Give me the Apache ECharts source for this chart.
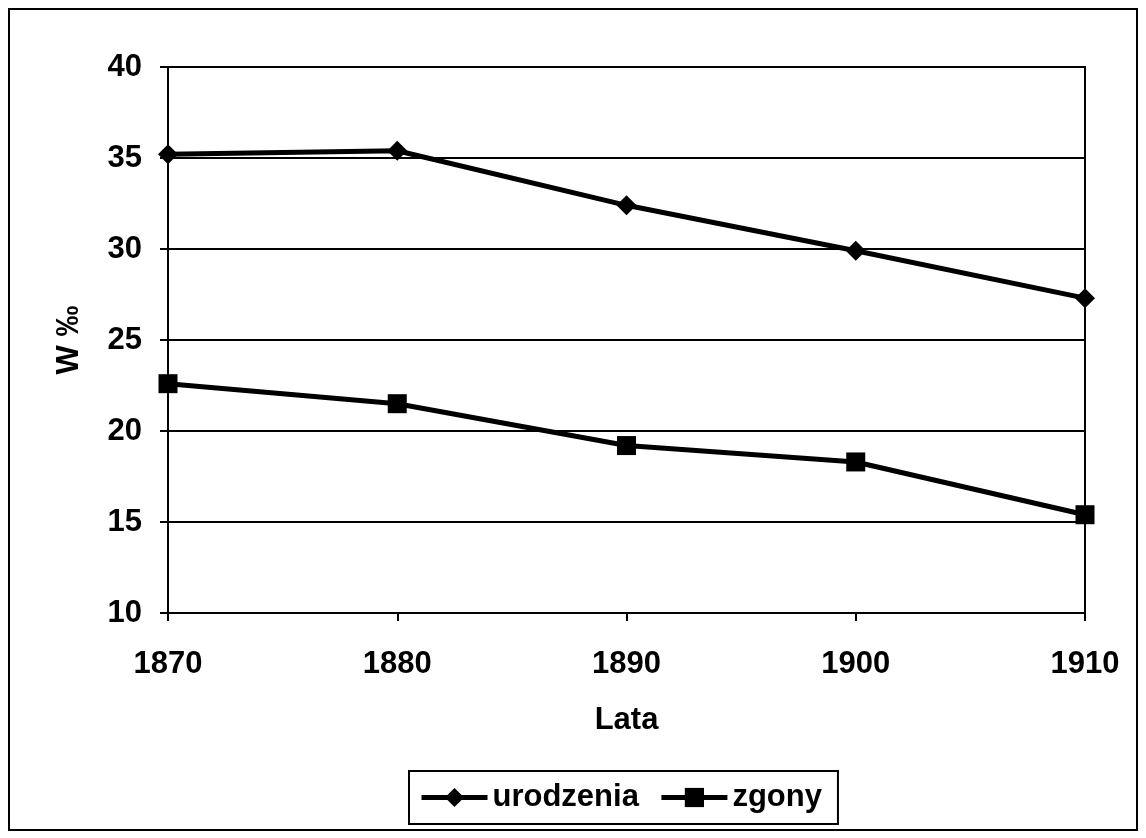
<!DOCTYPE html>
<html>
<head>
<meta charset="utf-8">
<script src="https://cdn.jsdelivr.net/npm/echarts@6/dist/echarts.min.js"></script>
<style>
  html, body { margin: 0; padding: 0; background: #fff; }
  #chart { width: 1146px; height: 838px; }
</style>
</head>
<body>
<div id="chart"></div>
<script>
const years = ['1870', '1880', '1890', '1900', '1910'];
const urodzenia = [35.2, 35.4, 32.4, 29.9, 27.3];
const zgony = [22.6, 21.5, 19.2, 18.3, 15.4];

const font = '"Liberation Sans", Arial, sans-serif';
const bold = { fontFamily: font, fontWeight: 'bold', fontSize: 31, color: '#000' };

const chart = echarts.init(document.getElementById('chart'));
chart.setOption({
  animation: false,
  backgroundColor: '#fff',
  textStyle: { fontFamily: font },
  // outer frame
  graphic: [{
    type: 'rect',
    shape: { x: 9, y: 9, width: 1128, height: 821 },
    style: { fill: 'none', stroke: '#000', lineWidth: 2 },
    silent: true
  }],
  grid: {
    left: 168, right: 61, top: 67, bottom: 225,
    show: true, borderColor: '#000', borderWidth: 2
  },
  legend: {
    data: ['urodzenia', 'zgony'],
    top: 771,
    left: 409,
    itemWidth: 66,
    itemHeight: 24,
    itemGap: 20,
    padding: [11, 16, 11, 10],
    borderColor: '#000',
    borderWidth: 2,
    lineStyle: { width: 5 },
    textStyle: bold
  },
  xAxis: {
    type: 'category',
    data: years,
    boundaryGap: false,
    name: 'Lata',
    nameLocation: 'middle',
    nameGap: 92,
    nameTextStyle: bold,
    axisLine: { lineStyle: { color: '#000', width: 2 } },
    axisTick: { show: true, length: 8, alignWithLabel: true, lineStyle: { color: '#000', width: 2 } },
    axisLabel: Object.assign({ margin: 36 }, bold),
    splitLine: { show: false }
  },
  yAxis: {
    type: 'value',
    min: 10, max: 40, interval: 5,
    name: 'W ‰',
    nameLocation: 'middle',
    nameGap: 83,
    nameRotate: 90,
    nameTextStyle: bold,
    axisLine: { show: true, lineStyle: { color: '#000', width: 2 } },
    axisTick: { show: true, length: 8, lineStyle: { color: '#000', width: 2 } },
    axisLabel: Object.assign({ margin: 26 }, bold),
    splitLine: { show: true, lineStyle: { color: '#000', width: 2 } }
  },
  series: [
    {
      name: 'urodzenia',
      type: 'line',
      data: urodzenia,
      symbol: 'diamond',
      symbolSize: 20,
      itemStyle: { color: '#000' },
      lineStyle: { color: '#000', width: 5 }
    },
    {
      name: 'zgony',
      type: 'line',
      data: zgony,
      symbol: 'rect',
      symbolSize: 19,
      itemStyle: { color: '#000' },
      lineStyle: { color: '#000', width: 5 }
    }
  ]
});
</script>
</body>
</html>
